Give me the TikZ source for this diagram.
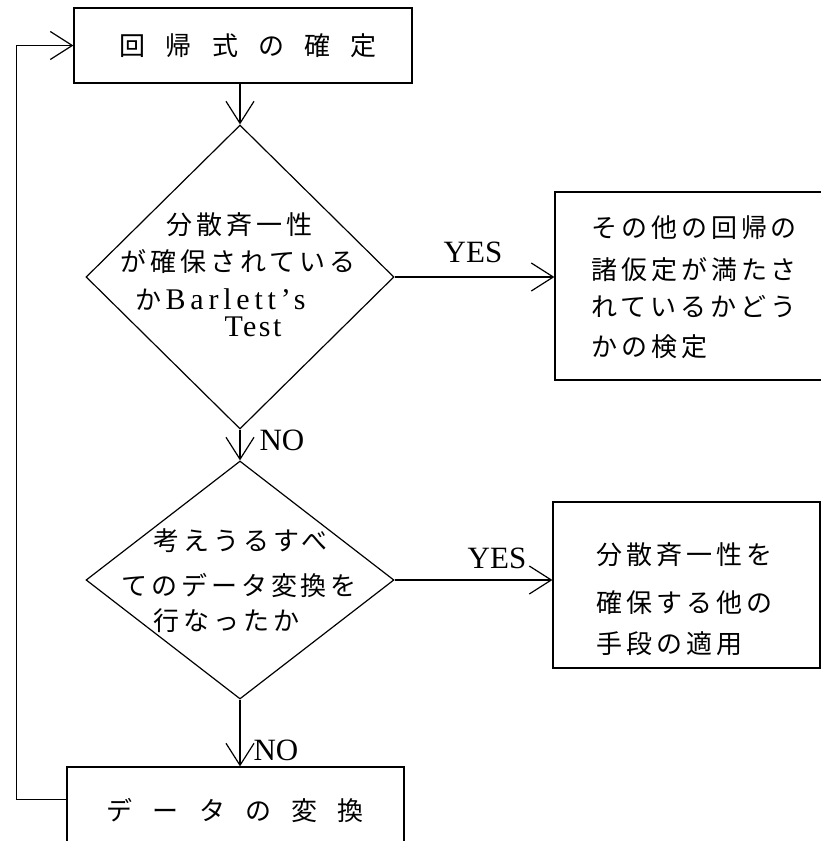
\documentclass[tikz,border=0pt]{standalone}
\usepackage{fontspec}
\setmainfont{Liberation Serif}
\newfontfamily\jp{Noto Sans CJK JP}[LetterSpace=15]
\newfontfamily\jpw{Noto Sans CJK JP}[LetterSpace=78]
\newfontfamily\lsp{Liberation Serif}[LetterSpace=16]
\newfontfamily\lspn{Liberation Serif}[LetterSpace=8]
\usetikzlibrary{arrows.meta,shapes.geometric}
\begin{document}
\begin{tikzpicture}[x=1pt,y=-1pt,line width=1.2pt,
  >={Straight Barb[length=22pt,width=28pt]},
  every node/.style={font=\fontsize{26pt}{30pt}\selectfont},
  boxnode/.style={draw,rectangle,inner sep=0pt},
  decision/.style={draw,diamond,inner sep=0pt},
  txt/.style={inner sep=0pt,anchor=west},
  lbl/.style={inner sep=0pt,font=\fontsize{31pt}{33pt}\selectfont}]
\useasboundingbox (0,0) rectangle (821,841);
\clip (0,0) rectangle (821,841);
% boxes
\node[boxnode,minimum width=338pt,minimum height=75pt] (top) at (243,45.5) {};
\node[boxnode,minimum width=325pt,minimum height=188pt] (box1) at (717.5,286) {};
\node[boxnode,minimum width=267pt,minimum height=166pt] (box2) at (686.5,585) {};
\node[boxnode,minimum width=337pt,minimum height=133pt] (bot) at (235.5,833.5) {};
% decisions
\node[decision,minimum width=308pt,minimum height=304pt] (d1) at (240,277) {};
\node[decision,minimum width=308pt,minimum height=238pt] (d2) at (240,580) {};
% texts
\node[txt] (toptxt) at (119,45.5) {\jpw 回帰式の確定};
\node[txt] (bottxt) at (106,810) {\jpw データの変換};
\node[txt] (d1a) at (166,225) {\jp 分散斉一性};
\node[txt] (d1b) at (120,262) {\jp が確保されている};
\node[txt] (d1c) at (135,299) {{\jp か}\hspace{4pt}{\fontsize{30pt}{32pt}\selectfont\lsp Barlett’s}};
\node[txt] (d1d) at (224,327) {\fontsize{30pt}{32pt}\selectfont\lspn Test};
\node[txt] (d2a) at (153,541) {\jp 考えうるすべ};
\node[txt] (d2b) at (121,585) {\jp てのデータ変換を};
\node[txt] (d2c) at (153,621) {\jp 行なったか};
\node[txt] (b1a) at (591,228) {\jp その他の回帰の};
\node[txt] (b1b) at (591,270) {\jp 諸仮定が満たさ};
\node[txt] (b1c) at (591,307) {\jp れているかどう};
\node[txt] (b1d) at (591,347) {\jp かの検定};
\node[txt] (b2a) at (596,555) {\jp 分散斉一性を};
\node[txt] (b2b) at (596,603) {\jp 確保する他の};
\node[txt] (b2c) at (596,644) {\jp 手段の適用};
% labels
\node[lbl] (yes1) at (473,252) {YES};
\node[lbl] (yes2) at (497,558) {YES};
\node[lbl,anchor=west] (no1) at (259,440) {NO};
\node[lbl,anchor=west] (no2) at (253,750) {NO};
% connectors
\draw[->] (d1.north |- top.south) -- (d1.north);
\draw[->] (d1.south) -- (d2.north);
\draw[->] (d2.south) -- (d2.south |- bot.north);
\draw[->] (d1.east) -- (d1.east -| box1.west);
\draw[->] (d2.east) -- (d2.east -| box2.west);
\draw[->] ([yshift=-33pt]bot.north west) -- ++(-50,0) |- (top.west);
\end{tikzpicture}
\end{document}
